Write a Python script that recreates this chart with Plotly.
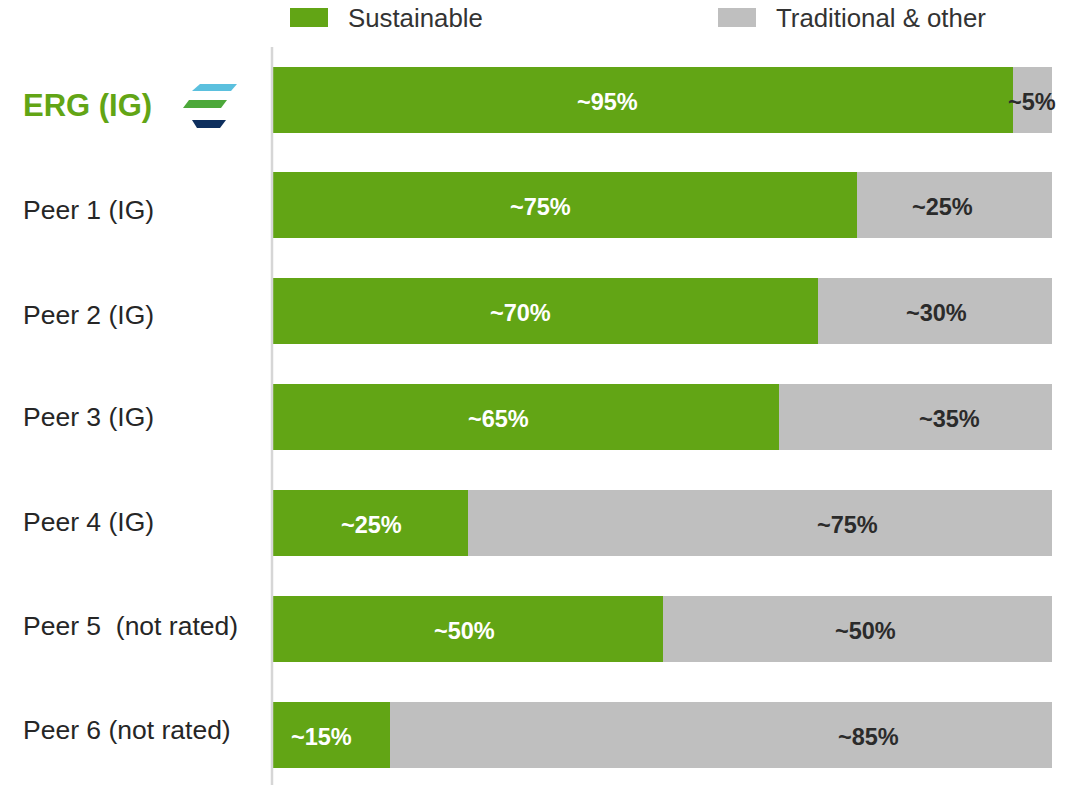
import plotly.graph_objects as go

# Share of portfolio: sustainable vs traditional & other
companies = ["ERG (IG)", "Peer 1 (IG)", "Peer 2 (IG)", "Peer 3 (IG)",
             "Peer 4 (IG)", "Peer 5  (not rated)", "Peer 6 (not rated)"]
sustainable = [95, 75, 70, 65, 25, 50, 15]
traditional = [5, 25, 30, 35, 75, 50, 85]

# horizontal placement of the value labels (in % of the axis)
label_x_sus = [42.9, 34.3, 31.8, 28.9, 12.6, 24.6, 6.2]
label_x_trad = [97.4, 85.9, 85.2, 86.8, 73.7, 76.1, 76.5]
# vertical nudges (px) of the company names
name_shift = [-6, -5, -4, 0, 1, 3, 5]

GREEN = "#62A515"
GREY = "#BFBFBF"
FONT = "Liberation Sans, Arial, sans-serif"
W, H = 1078, 785
ML, MR, MT, MB = 273, 26, 40, 0

pos = list(range(len(companies)))


def px(x):
    return (x - ML) / (W - ML - MR)


def py(y):
    return 1 - (y - MT) / (H - MT - MB)


fig = go.Figure()
fig.add_trace(go.Bar(
    y=pos, x=sustainable, orientation="h", name="Sustainable",
    marker=dict(color=GREEN, line=dict(width=0)), width=0.623,
))
fig.add_trace(go.Bar(
    y=pos, x=traditional, orientation="h", name="Traditional & other",
    marker=dict(color=GREY, line=dict(width=0)), width=0.623,
))

annotations = []
for i, name in enumerate(companies):
    first = i == 0
    annotations.append(dict(
        x=px(21), xref="paper", y=i, yref="y", xanchor="left", yanchor="middle",
        yshift=name_shift[i],
        text=f"<b>{name}</b>" if first else name, showarrow=False,
        font=dict(family=FONT, size=31 if first else 26.5,
                  color=GREEN if first else "#262626"),
    ))
    annotations.append(dict(
        x=label_x_sus[i], xref="x", y=i, yref="y", xanchor="center",
        yanchor="middle", yshift=-2, text=f"<b>~{sustainable[i]}%</b>",
        showarrow=False, font=dict(family=FONT, size=23.5, color="white"),
    ))
    annotations.append(dict(
        x=label_x_trad[i], xref="x", y=i, yref="y", xanchor="center",
        yanchor="middle", yshift=-2, text=f"<b>~{traditional[i]}%</b>",
        showarrow=False, font=dict(family=FONT, size=23.5, color="#2B2B2B"),
    ))

# custom legend
shapes = [
    dict(type="rect", xref="paper", yref="paper", x0=px(290), x1=px(328),
         y0=py(27), y1=py(8), fillcolor=GREEN, line=dict(width=0)),
    dict(type="rect", xref="paper", yref="paper", x0=px(718), x1=px(756),
         y0=py(27), y1=py(8), fillcolor=GREY, line=dict(width=0)),
    # vertical baseline
    dict(type="line", xref="paper", yref="paper", x0=px(272), x1=px(272),
         y0=py(785), y1=py(47), line=dict(color="#D6D6D6", width=2.5)),
]
for txt, x in [("Sustainable", 346), ("Traditional & other", 774)]:
    annotations.append(dict(
        x=px(x), xref="paper", y=py(18), yref="paper", xanchor="left",
        yanchor="middle", text=txt, showarrow=False,
        font=dict(family=FONT, size=25.8, color="#333333"),
    ))


# logo: three slanted stripes
def stripe(pts, color):
    path = "M " + " L ".join(f"{px(x)},{py(y)}" for x, y in pts) + " Z"
    return dict(type="path", xref="paper", yref="paper", path=path,
                fillcolor=color, line=dict(width=0))


shapes += [
    stripe([(200, 84), (237, 84), (231, 91), (192, 91)], "#5BC0DE"),
    stripe([(189, 100), (227, 100), (221, 108), (183, 108)], "#4CA83A"),
    stripe([(192, 120), (226, 120), (220, 128), (197, 128)], "#0E2F5E"),
]

fig.update_layout(
    barmode="stack", width=W, height=H, showlegend=False,
    margin=dict(l=ML, r=MR, t=MT, b=MB, pad=0),
    plot_bgcolor="white", paper_bgcolor="white",
    xaxis=dict(range=[0, 100], visible=False),
    yaxis=dict(range=[6.472, -0.562], visible=False),
    annotations=annotations, shapes=shapes,
)

fig.write_html("out.html")
